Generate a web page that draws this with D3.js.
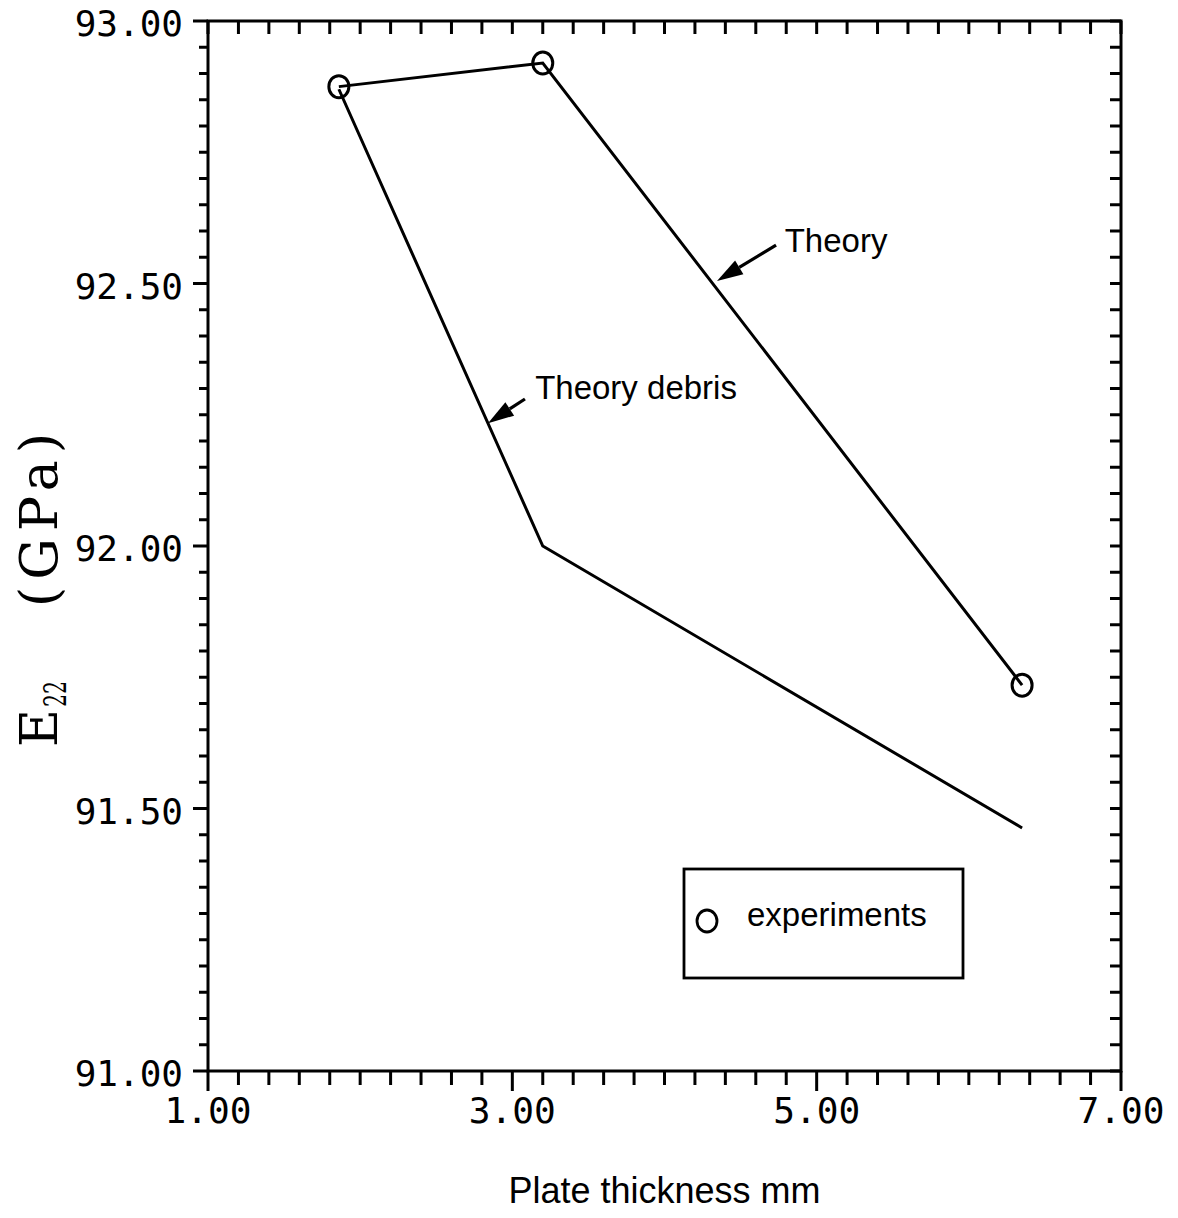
<!DOCTYPE html>
<html lang="en">
  <head>
    <meta charset="UTF-8" />
    <script src="https://d3js.org/d3.v7.min.js"></script>
    <title>E22 vs plate thickness</title>
    <style>
      body { margin: 0; background: #fff; }
      .ticklbl { font-family: 'DejaVu Sans Mono', monospace; font-size: 36px; fill: #000; }
      .note { font-family: 'Liberation Sans', Arial, sans-serif; font-size: 33px; fill: #000; }
    </style>
  </head>
  <body>
  <script>
    // data
    const expX = [1.86, 3.2, 6.35]
    const expY = [92.875, 92.92, 91.735]
    const theoryX = [1.86, 3.2, 6.35]
    const theoryY = [92.875, 92.92, 91.735]
    const debrisX = [1.86, 3.2, 6.35]
    const debrisY = [92.87, 92.0, 91.463]
    const xLabels = [1, 3, 5, 7]
    const yLabels = [91, 91.5, 92, 92.5, 93]
    // annotation anchors (data units): tail, tip, text
    const notes = [
      { text: 'Theory', tail: [4.733, 92.573], tip: [4.345, 92.505], at: [4.79, 92.56] },
      { text: 'Theory debris', tail: [3.083, 92.28], tip: [2.84, 92.234], at: [3.15, 92.28] },
    ]

    const W = 1178, H = 1218
    const m = { left: 208, right: 1121, top: 21, bottom: 1071 }

    const svg = d3.select('body').append('svg').attr('width', W).attr('height', H)

    const x = d3.scaleLinear().domain([1, 7]).range([m.left, m.right])
    const y = d3.scaleLinear().domain([91, 93]).range([m.bottom, m.top])

    const xMinor = x.ticks(30)
    const yMinor = y.ticks(40)
    const isMajX = (d) => xLabels.some((v) => Math.abs(v - d) < 1e-6)
    const isMajY = (d) => yLabels.some((v) => Math.abs(v - d) < 1e-6)

    const tk = svg.append('g').attr('stroke', '#000').attr('stroke-width', 3)
    // bottom, outward
    tk.selectAll('.tb').data(xMinor).enter().append('line')
      .attr('x1', (d) => x(d)).attr('x2', (d) => x(d))
      .attr('y1', m.bottom).attr('y2', (d) => m.bottom + (isMajX(d) ? 20 : 14))
    // top, inward
    tk.selectAll('.tt').data(xMinor).enter().append('line')
      .attr('x1', (d) => x(d)).attr('x2', (d) => x(d))
      .attr('y1', m.top).attr('y2', m.top + 13)
    // left, outward
    tk.selectAll('.tl').data(yMinor).enter().append('line')
      .attr('y1', (d) => y(d)).attr('y2', (d) => y(d))
      .attr('x1', m.left).attr('x2', (d) => m.left - (isMajY(d) ? 15 : 9))
    // right, inward
    tk.selectAll('.tr').data(yMinor).enter().append('line')
      .attr('y1', (d) => y(d)).attr('y2', (d) => y(d))
      .attr('x1', m.right).attr('x2', m.right - 11)

    svg.append('rect')
      .attr('x', m.left).attr('y', m.top)
      .attr('width', m.right - m.left).attr('height', m.bottom - m.top)
      .attr('fill', 'none').attr('stroke', '#000').attr('stroke-width', 3)

    const fmt = d3.format('.2f')
    svg.selectAll('.xl').data(xLabels).enter().append('text')
      .attr('class', 'ticklbl')
      .attr('x', (d) => x(d)).attr('y', m.bottom + 52)
      .attr('text-anchor', 'middle')
      .attr('textLength', 87).attr('lengthAdjust', 'spacingAndGlyphs')
      .text(fmt)
    svg.selectAll('.yl').data(yLabels).enter().append('text')
      .attr('class', 'ticklbl')
      .attr('x', m.left - 25).attr('y', (d) => y(d))
      .attr('dy', '0.42em')
      .attr('text-anchor', 'end')
      .text(fmt)

    // lines
    const line = d3.line().x((d) => x(d[0])).y((d) => y(d[1]))
    svg.append('path').datum(d3.zip(theoryX, theoryY))
      .attr('d', line).attr('fill', 'none').attr('stroke', '#000').attr('stroke-width', 3)
    svg.append('path').datum(d3.zip(debrisX, debrisY))
      .attr('d', line).attr('fill', 'none').attr('stroke', '#000').attr('stroke-width', 3)

    svg.selectAll('.exp').data(d3.zip(expX, expY)).enter().append('ellipse')
      .attr('cx', (d) => x(d[0])).attr('cy', (d) => y(d[1]))
      .attr('rx', 10).attr('ry', 11)
      .attr('fill', 'none').attr('stroke', '#000').attr('stroke-width', 3)

    // arrows + labels
    notes.forEach((n) => {
      const x0 = x(n.tail[0]), y0 = y(n.tail[1])
      const x1 = x(n.tip[0]), y1 = y(n.tip[1])
      const ang = Math.atan2(y1 - y0, x1 - x0)
      const L = 26, w = 8
      const bx = x1 - L * Math.cos(ang), by = y1 - L * Math.sin(ang)
      svg.append('line').attr('x1', x0).attr('y1', y0).attr('x2', bx).attr('y2', by)
        .attr('stroke', '#000').attr('stroke-width', 3.2)
      svg.append('path')
        .attr('d', 'M' + x1 + ',' + y1 +
          'L' + (bx + w * Math.sin(ang)) + ',' + (by - w * Math.cos(ang)) +
          'L' + (bx - w * Math.sin(ang)) + ',' + (by + w * Math.cos(ang)) + 'Z')
        .attr('fill', '#000')
      svg.append('text').attr('class', 'note')
        .attr('x', x(n.at[0])).attr('y', y(n.at[1]))
        .text(n.text)
    })

    // legend box
    const lg = svg.append('g').attr('transform', 'translate(684,869)')
    lg.append('rect').attr('width', 279).attr('height', 109)
      .attr('fill', 'none').attr('stroke', '#000').attr('stroke-width', 2.8)
    lg.append('ellipse').attr('cx', 23).attr('cy', 52).attr('rx', 10).attr('ry', 11)
      .attr('fill', 'none').attr('stroke', '#000').attr('stroke-width', 2.8)
    lg.append('text').attr('class', 'note').attr('x', 63).attr('y', 57).text('experiments')

    // axis titles
    svg.append('text').attr('class', 'note')
      .attr('x', (m.left + m.right) / 2).attr('y', 1203)
      .attr('text-anchor', 'middle').style('font-size', '36px')
      .text('Plate thickness mm')

    const yt = svg.append('g').attr('transform', 'translate(57,747) rotate(-90)')
      .style('font-family', "'DejaVu Serif', serif").attr('fill', '#000')
    yt.append('text').attr('x', 0).attr('y', 0).style('font-size', '52px').text('E')
    yt.append('text').attr('x', 40).attr('y', 9).style('font-size', '31px')
      .attr('textLength', 26).attr('lengthAdjust', 'spacingAndGlyphs').text('22')
    yt.append('text').attr('x', 140).attr('y', 0).style('font-size', '52px')
      .attr('textLength', 174).attr('lengthAdjust', 'spacing').text('(GPa)')
  </script>
  </body>
</html>
